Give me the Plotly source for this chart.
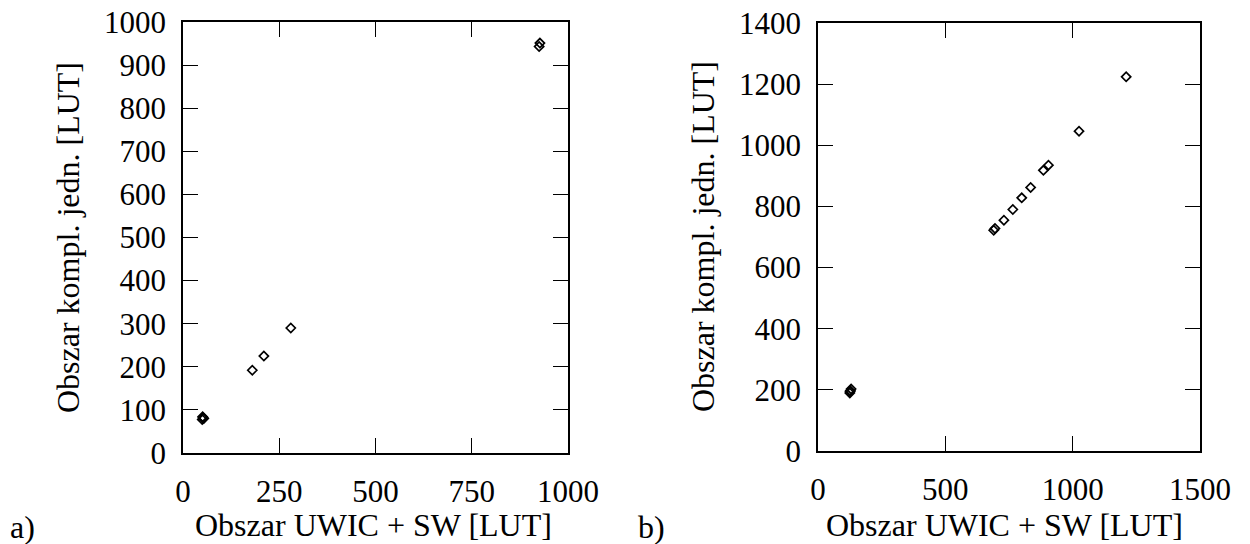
import plotly.graph_objects as go

# Panel a) data
a_x = [50, 52, 54, 51, 180, 210, 280, 925, 927]
a_y = [78, 82, 80, 84, 192, 225, 290, 943, 951]
# Panel b) data
b_x = [125, 127, 130, 126, 690, 695, 730, 765, 800, 835, 885, 905, 1025, 1210]
b_y = [190, 197, 203, 195, 722, 728, 755, 790, 828, 862, 918, 935, 1046, 1224]

a_xticks = [0, 250, 500, 750, 1000]
a_yticks = [0, 100, 200, 300, 400, 500, 600, 700, 800, 900, 1000]
b_xticks = [0, 500, 1000, 1500]
b_yticks = [0, 200, 400, 600, 800, 1000, 1200, 1400]

xtitle = "Obszar UWIC + SW [LUT]"
ytitle = "Obszar kompl. jedn. [LUT]"

FONT = "Liberation Serif"
FS_TICK = 31
FS_TITLE = 32

W, H = 1250, 544

def px(x):
    return x / W

def py(y):
    return 1 - y / H

fig = go.Figure()

marker = dict(symbol="diamond-open", size=7, color="black", line=dict(width=1.7, color="black"))

fig.add_trace(go.Scatter(x=a_x, y=a_y, mode="markers", marker=marker, xaxis="x", yaxis="y", showlegend=False))
fig.add_trace(go.Scatter(x=b_x, y=b_y, mode="markers", marker=marker, xaxis="x2", yaxis="y2", showlegend=False))

axis_common = dict(
    showline=True, linecolor="black", linewidth=1.5, mirror="ticks",
    ticks="inside", ticklen=15, tickwidth=1.2, tickcolor="black",
    showgrid=False, zeroline=False, automargin=False, ticklabeloverflow="allow",
    tickfont=dict(family=FONT, size=FS_TICK, color="black"),
)

fig.update_layout(
    width=W, height=H,
    margin=dict(l=0, r=0, t=0, b=0),
    paper_bgcolor="white", plot_bgcolor="white",
    xaxis=dict(domain=[px(183), px(568)], range=[0, 1000], tickvals=a_xticks,
               anchor="y", ticklabelstandoff=10, **axis_common),
    yaxis=dict(domain=[py(453), py(22)], range=[0, 1000], tickvals=a_yticks,
               anchor="x", ticklabelstandoff=9, **axis_common),
    xaxis2=dict(domain=[px(818), px(1200)], range=[0, 1500], tickvals=b_xticks,
                anchor="y2", ticklabelstandoff=10, **axis_common),
    yaxis2=dict(domain=[py(451), py(23)], range=[0, 1400], tickvals=b_yticks,
                anchor="x2", ticklabelstandoff=9, **axis_common),
)

ann_font = dict(family=FONT, size=FS_TITLE, color="black")
annotations = [
    dict(text=xtitle, x=px(373), y=py(525), xref="paper", yref="paper", showarrow=False,
         xanchor="center", yanchor="middle", font=ann_font),
    dict(text=xtitle, x=px(1004), y=py(525), xref="paper", yref="paper", showarrow=False,
         xanchor="center", yanchor="middle", font=ann_font),
    dict(text=ytitle, x=px(68), y=py(238), xref="paper", yref="paper", showarrow=False,
         xanchor="center", yanchor="middle", textangle=-90, font=ann_font),
    dict(text=ytitle, x=px(703), y=py(237), xref="paper", yref="paper", showarrow=False,
         xanchor="center", yanchor="middle", textangle=-90, font=ann_font),
    dict(text="a)", x=px(22), y=py(527), xref="paper", yref="paper", showarrow=False,
         xanchor="center", yanchor="middle", font=ann_font),
    dict(text="b)", x=px(651), y=py(527), xref="paper", yref="paper", showarrow=False,
         xanchor="center", yanchor="middle", font=ann_font),
]
fig.update_layout(annotations=annotations)

fig.write_html("out.html", config={"displayModeBar": False},
               post_script="document.body.style.margin='0';")
